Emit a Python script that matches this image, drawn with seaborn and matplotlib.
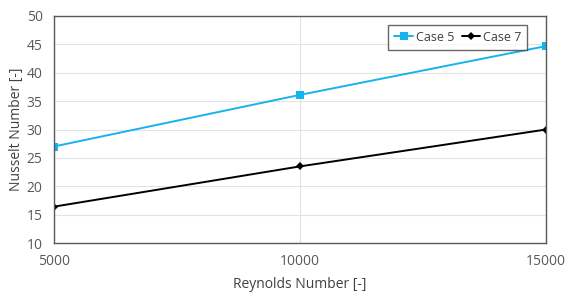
import pandas as pd
import seaborn as sns
import matplotlib
matplotlib.use("Agg")
import matplotlib.pyplot as plt

reynolds = [5000, 10000, 15000]
case5 = [27.0, 36.1, 44.7]
case7 = [16.4, 23.5, 30.0]

df = pd.DataFrame({
    "Re": reynolds * 2,
    "Nu": case5 + case7,
    "case": ["Case 5"] * 3 + ["Case 7"] * 3,
})

sns.set_style("white")
plt.rcParams['font.family'] = ['Open Sans', 'DejaVu Sans']

fig = plt.figure(figsize=(5.66, 2.96), dpi=100)
ax = fig.add_axes([0.095, 0.179, 0.87, 0.767])

sns.lineplot(data=df, x="Re", y="Nu", hue="case", style="case",
             palette={"Case 5": "#16b4ee", "Case 7": "#000000"},
             markers={"Case 5": "s", "Case 7": "D"}, dashes=False,
             markersize=6, linewidth=1.4, markeredgewidth=0, ax=ax)
# make diamond smaller
for line in ax.lines:
    if line.get_marker() == "D":
        line.set_markersize(4.5)

ax.set_xlim(5000, 15000)
ax.set_ylim(10, 50)
ax.set_xticks([5000, 10000, 15000])
ax.set_yticks(range(10, 51, 5))
ax.grid(True, color="#e3e3e3", linewidth=0.8)
ax.set_axisbelow(True)
for s in ax.spines.values():
    s.set_color("#595959")
    s.set_linewidth(1.0)
ax.tick_params(axis="both", colors="#595959", labelsize=10, length=0, pad=8)
ax.set_xlabel("Reynolds Number [-]", color="#404040", fontsize=10, labelpad=6)
ax.set_ylabel("Nusselt Number [-]", color="#404040", fontsize=10, labelpad=2)

leg = ax.legend(loc="upper right", bbox_to_anchor=(0.962, 0.962), ncol=2,
                fontsize=9, frameon=True, fancybox=False, handlelength=1.5,
                handletextpad=0.2, columnspacing=0.6, borderpad=0.5,
                borderaxespad=0)
leg.get_frame().set_edgecolor("#404040")
leg.get_frame().set_linewidth(1.0)
for t in leg.get_texts():
    t.set_color("#404040")

fig.savefig("out.png", dpi=100)
